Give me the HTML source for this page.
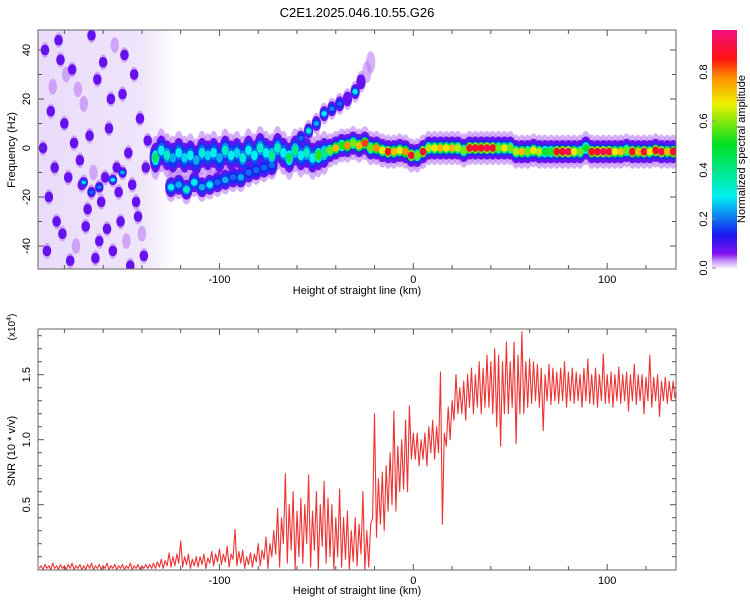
<!DOCTYPE html>
<html><head><meta charset="utf-8"><style>
html,body{margin:0;padding:0;background:#fff;}
svg{display:block;font-family:"Liberation Sans",sans-serif;}
</style></head><body>
<svg id="chart" width="750" height="600" viewBox="0 0 750 600">
<defs>
<linearGradient id="cbgrad" x1="0" y1="1" x2="0" y2="0">
<stop offset="0" stop-color="#f4ecfc"/><stop offset="0.03" stop-color="#c890f8"/><stop offset="0.06" stop-color="#8010f0"/>
<stop offset="0.14" stop-color="#1818f0"/><stop offset="0.3" stop-color="#00f0f0"/><stop offset="0.52" stop-color="#00e020"/>
<stop offset="0.69" stop-color="#f0f000"/><stop offset="0.8" stop-color="#ff9000"/><stop offset="0.88" stop-color="#ff1010"/>
<stop offset="1" stop-color="#f01080"/></linearGradient>
<linearGradient id="washgrad" x1="0" y1="0" x2="1" y2="0">
<stop offset="0" stop-color="#eadcf9"/><stop offset="0.75" stop-color="#efe5fb"/><stop offset="1" stop-color="#ffffff"/></linearGradient>
<clipPath id="clipTop"><rect x="38" y="30" width="638" height="239"/></clipPath>
<clipPath id="clipBot"><rect x="38" y="329" width="638" height="241"/></clipPath>
</defs>
<text x="357" y="17" text-anchor="middle" font-size="13">C2E1.2025.046.10.55.G26</text>
<g id="topPlot">
<g id="specMarks" clip-path="url(#clipTop)"></g>
<rect x="38" y="30" width="638" height="239" fill="none" stroke="#666" stroke-width="1"/>
<g id="topAxes"></g>
<text x="357" y="294" text-anchor="middle" font-size="11">Height of straight line (km)</text>
<text transform="translate(15,150) rotate(-90)" text-anchor="middle" font-size="11">Frequency (Hz)</text>
</g>
<g>
<rect x="712" y="30" width="25" height="238" fill="url(#cbgrad)"/>
<g id="cbTicks"></g>
<text transform="translate(745,149) rotate(-90)" text-anchor="middle" font-size="11">Normalized spectral amplitude</text>
</g>
<g id="botPlot">
<g clip-path="url(#clipBot)"><polyline id="snrLine" fill="none" stroke="#ee3333" stroke-width="1.1" stroke-linejoin="round"/></g>
<rect x="38" y="329" width="638" height="241" fill="none" stroke="#666" stroke-width="1"/>
<g id="botAxes"></g>
<text x="357" y="594" text-anchor="middle" font-size="11">Height of straight line (km)</text>
<text transform="translate(15,451) rotate(-90)" text-anchor="middle" font-size="11">SNR (10 * v/v)</text>
<text transform="translate(15,327) rotate(-90)" text-anchor="middle" font-size="10">(x10<tspan dy="-4" font-size="7">4</tspan><tspan dy="4">)</tspan></text>
</g>
</svg>
<script>
// ---- data ----
const bandX0 = -133, bandStep = 3;
const bandF = [-4,-1,-3,-4,-2,-4,-3,-5,-2,-3, -2,-4,-1,-3,-2,-4,-1,-3,0,-2, -3,0,-2,-4,-1,-3,-2,-4,-3,-2,
 -1,0,1,1,2,1,2,0,0,-1, -1.5,-1.5,-1,-1.5,-3,-3,-1.5,0,0,0, 0,0,0,-1,0,0,0,0,0,0,
 0,0,-1.5,-1.5,-1.5,-1,-1.5,-1.5,-1.5,-1.5, -1.5,-1.5,-1.5,-1.5,0,-1.5,-1.5,-1.5,-1.5,-1.5, -1.5,-1,-1.5,-1.5,-1.5,-1.5,-1,-1.5,-1.5,-1.5];
const bandA = [0.45,0.3,0.35,0.25,0.3,0.28,0.3,0.25,0.32,0.28, 0.3,0.25,0.35,0.3,0.28,0.33,0.3,0.3,0.35,0.3,
 0.4,0.35,0.3,0.45,0.4,0.3,0.35,0.3,0.55,0.4, 0.6,0.75,0.55,0.8,0.6,0.75,0.85,0.6,0.8,0.7,
 0.9,0.75,0.7,0.8,0.92,0.6,0.9,0.65,0.7,0.75, 0.7,0.75,0.65,0.6,0.9,0.92,0.9,0.95,0.9,0.6,
 0.7,0.6,0.65,0.75,0.6,0.7,0.65,0.5,0.55,0.9, 0.92,0.95,0.7,0.6,0.5,0.9,0.92,0.95,0.92,0.7,
 0.75,0.6,0.9,0.75,0.92,0.7,0.9,0.93,0.75,0.9];
const lowX = [-125,-121,-117,-113,-109,-105,-101,-97,-93,-89,-85,-81,-77,-73];
const lowF = [-16,-15,-17,-14,-16,-15,-14,-13,-12,-12,-10,-9,-8,-7];
const lowA = [0.3,0.25,0.35,0.3,0.25,0.3,0.2,0.25,0.2,0.25,0.2,0.2,0.2,0.2];
const upX = [-58,-54,-50,-46,-42,-38,-34,-30,-27,-24,-22];
const upF = [4,7,10,14,16,18,20,23,27,31,35];
const upA = [0.2,0.35,0.25,0.3,0.22,0.2,0.15,0.3,0.1,0.06,0.05];
const noiseX = [-190,-186,-183,-180,-176,-172,-170,-166,-163,-160,-157,-154,-150,-147,-144,-141,-138,
 -188,-184,-178,-174,-168,-164,-158,-152,-148,-142,-139, -191,-185,-181,-175,-171,-165,-161,-155,-151,-145,-140,
 -187,-182,-177,-173,-167,-162,-156,-153,-149,-143,-137, -189,-179,-169,-159,-146, -170,-162,-155,-166,-150];
const noiseF = [40,25,44,10,32,-5,18,46,28,35,8,42,22,-2,30,12,-8,
 -20,-30,-12,-40,-25,-45,-33,-18,-38,-28,-44, 0,-8,-35,2,-15,-10,-22,-42,-30,-15,-35,
 15,36,-46,24,5,-38,20,-8,38,-22,3, -42,30,-32,-12,-48, -14,-16,-13,-18,-10];
const noiseA = [0.1,0.08,0.12,0.09,0.11,0.1,0.08,0.12,0.1,0.09,0.11,0.08,0.1,0.12,0.09,0.1,0.11,
 0.1,0.09,0.12,0.08,0.11,0.1,0.09,0.12,0.08,0.1,0.11, 0.12,0.1,0.09,0.11,0.1,0.08,0.12,0.09,0.1,0.11,0.08,
 0.09,0.11,0.1,0.08,0.12,0.1,0.09,0.11,0.1,0.12,0.09, 0.1,0.08,0.11,0.1,0.09, 0.28,0.22,0.3,0.2,0.25];
const snrX0 = -193, snrStep = 2;
const snrLo = [0.01,0,0.01,0,0.01,0,0.01,0,0.01,0,0.01,0,0,0.01,0,0.01,0,0.01,0,0.01,0,0.01,0,0.01,0,0.01,0,0.01,0.01,
 0.01,0.01,0.02,0.01,0.03,0.02,0.03,0.05,
 0.02,0.04,0.01,0.03,0.02,0.04,0.01,0.05,0.03,0.06,
 0.04,0.06,0.02,0.08,0.03,0.05,0.01,0.04,0.02,0.06,
 0.03,0.08,0.01,0.1,0.12,
 0.02,0.2,0.05,0.15,0.0,0.1,0.05,0.2,0.02,0.15,0.0,0.18,0.05,0.1,0.0,
 0.1,0.02,0.08,0.0,0.06,0.03,0.12,0.0,0.02,
 0.4,0.25,0.35,0.3,0.45,0.5,0.45,0.6,0.62,0.6,0.85,
 0.85,0.8,0.85,0.8,0.9,0.85,0.9,0.35,0.95,1.0,
 1.15,1.2,1.2,1.15,1.25,1.2,1.25,1.2,1.25,1.25,
 1.2,1.1,0.95,1.2,1.2,1.25,0.97,1.2,1.2,1.25,
 1.28,1.3,1.25,1.07,1.3,1.27,1.3,1.28,1.3,1.25,
 1.3,1.28,1.3,1.25,1.3,1.28,1.27,1.25,1.3,1.28,
 1.28,1.25,1.3,1.28,1.3,1.22,1.3,1.27,1.3,1.2,
 1.3,1.25,1.3,1.18,1.3,1.28,1.3,1.32];
const snrHi = [0.03,0.04,0.03,0.05,0.03,0.04,0.03,0.04,0.05,0.03,0.04,0.03,0.04,0.05,0.03,0.04,0.03,0.05,0.03,0.04,0.03,0.04,0.03,0.05,0.03,0.04,0.03,0.04,0.04,
 0.05,0.06,0.08,0.07,0.13,0.1,0.12,0.22,
 0.1,0.12,0.08,0.1,0.1,0.12,0.09,0.14,0.12,0.16,
 0.12,0.18,0.12,0.31,0.14,0.15,0.1,0.13,0.12,0.2,
 0.15,0.25,0.2,0.3,0.47,
 0.4,0.74,0.5,0.6,0.45,0.55,0.5,0.73,0.45,0.6,0.5,0.68,0.55,0.5,0.4,
 0.62,0.4,0.45,0.3,0.4,0.35,0.6,0.3,0.35,
 1.2,0.7,0.75,0.8,0.9,1.22,0.95,1.0,1.15,1.26,1.05,
 1.05,1.0,1.05,1.1,1.15,1.1,1.52,1.05,1.25,1.3,
 1.5,1.4,1.45,1.5,1.55,1.5,1.6,1.55,1.65,1.6,
 1.7,1.65,1.6,1.75,1.6,1.75,1.65,1.83,1.6,1.62,
 1.6,1.58,1.55,1.5,1.58,1.55,1.52,1.55,1.6,1.52,
 1.55,1.52,1.5,1.55,1.62,1.5,1.55,1.5,1.66,1.5,
 1.52,1.5,1.56,1.5,1.52,1.5,1.58,1.5,1.5,1.48,
 1.65,1.48,1.5,1.45,1.48,1.45,1.45,1.42];
const xTickLabels = [-100, 0, 100];
const fTickLabels = [-40, -20, 0, 20, 40];
const snrTickLabels = ["0.5", "1.0", "1.5"];
const cbTickLabels = ["0.0", "0.2", "0.4", "0.6", "0.8"];

// ---- axes ----
const NS = "http://www.w3.org/2000/svg";
const XMIN = -193.6, XMAX = 135.5;
const xs = v => 38 + (v - XMIN) / (XMAX - XMIN) * 638;
const fs = f => 148 - f * 2.45;
const ys = v => 569.7 - v * 130;
const cs = a => 268 - a * 245;
const pxk = 638 / (XMAX - XMIN);
function mk(tag, attrs, parent) { const e = document.createElementNS(NS, tag); for (const k in attrs) e.setAttribute(k, attrs[k]); parent.appendChild(e); return e; }

const stops = [[0,[244,236,252]],[0.03,[200,144,248]],[0.06,[128,16,240]],[0.14,[24,24,240]],[0.3,[0,240,240]],[0.52,[0,224,32]],[0.69,[240,240,0]],[0.8,[255,144,0]],[0.88,[255,16,16]],[1,[240,16,128]]];
function cmap(a) {
  a = Math.max(0, Math.min(1, a));
  for (let i = 1; i < stops.length; i++) if (a <= stops[i][0]) {
    const t = (a - stops[i-1][0]) / (stops[i][0] - stops[i-1][0]);
    const c = stops[i-1][1].map((v, j) => Math.round(v + (stops[i][1][j] - v) * t));
    return "rgb(" + c.join(",") + ")";
  }
  return "rgb(240,16,128)";
}

const spec = document.getElementById("specMarks");
const wash = mk("rect", {x: 38, y: 30, width: xs(-122) - 38, height: 239, fill: "url(#washgrad)"}, spec);



// layered blob: outer halo -> core
const layerDefs = [[0.035, 1.0, 0.6], [0.08, 0.68, 1], [0.16, 0.48, 1], [0.65, 0.34, 1], [1, 0.22, 1]];
const groups = [mk("g", {}, spec), mk("g", {}, spec), mk("g", {}, spec), mk("g", {}, spec), mk("g", {}, spec)];
function blob(x, f, a, rxKm, ryHz, name) {
  const cx = xs(x), cy = fs(f);
  layerDefs.forEach((L, i) => {
    const lv = i >= 3 ? a * L[0] : L[0];
    if (i < 3 && lv >= a) return;
    if (i >= 3 && a < 0.18) return;
    const e = mk("ellipse", {cx: cx, cy: cy, rx: rxKm * pxk * Math.min(1, 0.35 + L[1]), ry: ryHz * 2.45 * L[1], fill: cmap(lv), opacity: L[2]}, groups[i]);
    
    
  });
}
for (let i = 0; i < noiseX.length; i++) blob(noiseX[i], noiseF[i], noiseA[i], 2.2, 3.2, "noise-blob");
for (let i = 0; i < lowX.length; i++) blob(lowX[i], lowF[i], lowA[i], 3, 6, "lower-branch-blob");
for (let i = 0; i < upX.length; i++) blob(upX[i], upF[i], upA[i], 2.4, 4.5, "upper-branch-blob");
for (let i = 0; i < bandF.length; i++) {
  const x = bandX0 + bandStep * i;
  blob(x, bandF[i], bandA[i], 3, x < -45 ? 9 : 7, "carrier-band-blob");
}

function ticks(group, y0, y1) {
  for (let v = -180; v <= 120; v += 20) {
    const x = xs(v), L = v % 100 === 0 ? 6 : 4;
    mk("line", {x1: x, x2: x, y1: y1, y2: y1 - L, stroke: "#555"}, group);
    mk("line", {x1: x, x2: x, y1: y0, y2: y0 + L, stroke: "#555"}, group);
  }
  xTickLabels.forEach(v => {
    const t = mk("text", {x: xs(v), y: y1 + 14, "text-anchor": "middle", "font-size": 11}, group);
    t.textContent = v;
    
    
  });
}
const topAxes = document.getElementById("topAxes");
ticks(topAxes, 30, 269);
for (let f = -40; f <= 40; f += 10) {
  const y = fs(f), L = f % 20 === 0 ? 6 : 4;
  mk("line", {x1: 38, x2: 38 + L, y1: y, y2: y, stroke: "#555"}, topAxes);
  mk("line", {x1: 676, x2: 676 - L, y1: y, y2: y, stroke: "#555"}, topAxes);
}
fTickLabels.forEach(f => {
  const t = mk("text", {transform: "translate(30," + fs(f) + ") rotate(-90)", "text-anchor": "middle", "font-size": 11}, topAxes);
  t.textContent = f;
  
  
});

const botAxes = document.getElementById("botAxes");
ticks(botAxes, 329, 570);
for (let k = 1; k <= 18; k++) {
  const v = k / 10, y = ys(v), L = k % 5 === 0 ? 6 : 4;
  mk("line", {x1: 38, x2: 38 + L, y1: y, y2: y, stroke: "#555"}, botAxes);
  mk("line", {x1: 676, x2: 676 - L, y1: y, y2: y, stroke: "#555"}, botAxes);
}
snrTickLabels.forEach(s => {
  const t = mk("text", {transform: "translate(30," + ys(parseFloat(s)) + ") rotate(-90)", "text-anchor": "middle", "font-size": 11}, botAxes);
  t.textContent = s;
  
  
});

const cbT = document.getElementById("cbTicks");
cbTickLabels.forEach(s => {
  const y = cs(parseFloat(s));
  mk("line", {x1: 712, x2: 716, y1: y, y2: y, stroke: "#888"}, cbT);
  const t = mk("text", {transform: "translate(707," + y + ") rotate(-90)", "text-anchor": "middle", "font-size": 11}, cbT);
  t.textContent = s;
  
  
});

const pts = [];
for (let i = 0; i < snrLo.length; i++) {
  const x = snrX0 + snrStep * i;
  pts.push(xs(x).toFixed(1) + "," + ys(snrLo[i]).toFixed(1));
  pts.push(xs(x + 1).toFixed(1) + "," + ys(snrHi[i]).toFixed(1));
}
document.getElementById("snrLine").setAttribute("points", pts.join(" "));
</script>
</body></html>
